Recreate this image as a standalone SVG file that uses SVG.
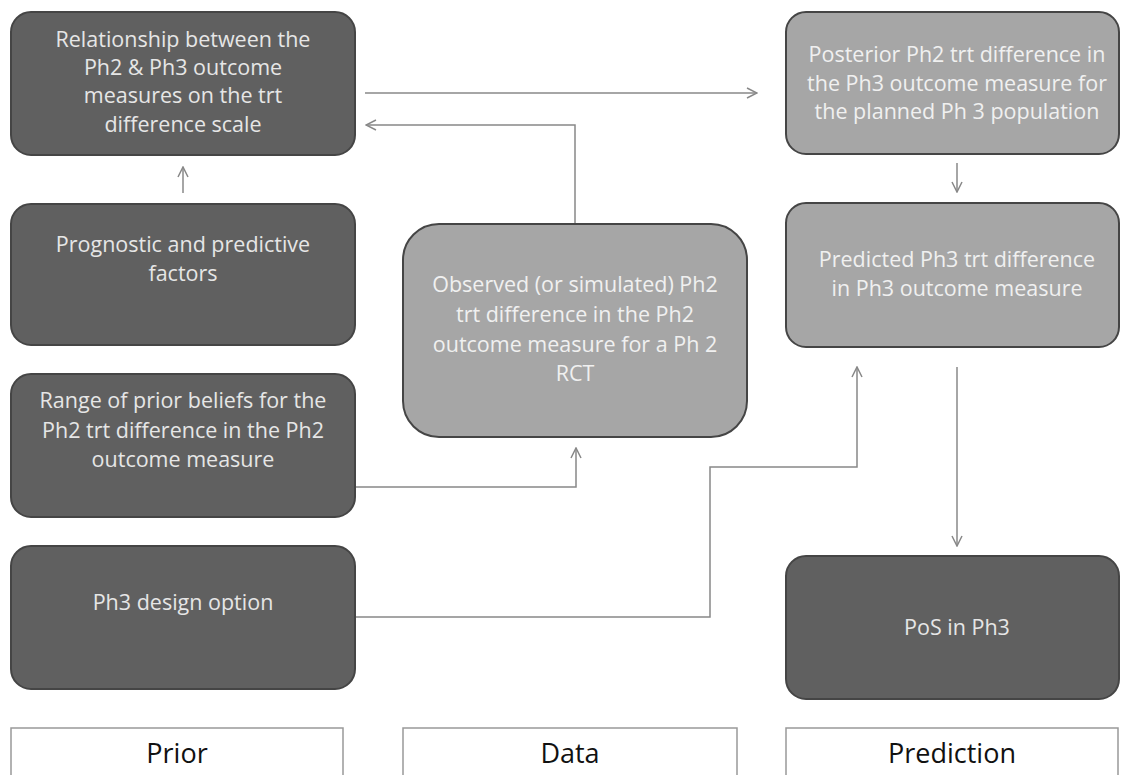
<svg xmlns="http://www.w3.org/2000/svg" width="1122" height="775" viewBox="0 0 1122 775">
<style>
.dark{fill:#606060;stroke:#454545;stroke-width:2}
.light{fill:#a6a6a6;stroke:#454545;stroke-width:2}
.t{font-family:"Open Sans",Lato,sans-serif;font-size:21.5px;text-anchor:middle;fill:#e6e6e6}
.tl{font-family:"Open Sans",Lato,sans-serif;font-size:21.5px;text-anchor:middle;fill:#f0f0f0}
.lab{fill:#fff;stroke:#999;stroke-width:1.5}
.lt{font-family:"Open Sans",Lato,sans-serif;font-size:27px;text-anchor:middle;fill:#111}
.c{fill:none;stroke:#888;stroke-width:1.5;marker-end:url(#ah)}
</style>
<defs>
<marker id="ah" viewBox="0 0 12 12" refX="11" refY="6" markerWidth="12" markerHeight="12" markerUnits="userSpaceOnUse" orient="auto">
<path d="M1,1 L11,6 L1,11" fill="none" stroke="#888" stroke-width="1.5"/>
</marker>
</defs>
<rect width="1122" height="775" fill="#fff"/>
<g id="connectors">
<path class="c" d="M365,93 H757"/>
<path class="c" d="M575,224 V125 H366"/>
<path class="c" d="M183,193 V167"/>
<path class="c" d="M355,487 H576 V448"/>
<path class="c" d="M355,617 H710 V467 H857 V367"/>
<path class="c" d="M957,163 V192"/>
<path class="c" d="M957,367 V546"/>
</g>
<g id="relationship">
<rect class="dark" x="11" y="12" width="344" height="143" rx="20"/>
<text class="t" x="183" y="47">Relationship between the</text>
<text class="t" x="183" y="75">Ph2 &amp; Ph3 outcome</text>
<text class="t" x="183" y="103">measures on the trt</text>
<text class="t" x="183" y="132">difference scale</text>
</g>
<g id="prognostic">
<rect class="dark" x="11" y="204" width="344" height="141" rx="20"/>
<text class="t" x="183" y="252">Prognostic and predictive</text>
<text class="t" x="183" y="281">factors</text>
</g>
<g id="range">
<rect class="dark" x="11" y="374" width="344" height="143" rx="20"/>
<text class="t" x="183" y="408">Range of prior beliefs for the</text>
<text class="t" x="183" y="438">Ph2 trt difference in the Ph2</text>
<text class="t" x="183" y="467">outcome measure</text>
</g>
<g id="ph3design">
<rect class="dark" x="11" y="546" width="344" height="143" rx="20"/>
<text class="t" x="183" y="610">Ph3 design option</text>
</g>
<g id="observed">
<rect class="light" x="403" y="224" width="344" height="213" rx="36"/>
<text class="tl" x="575" y="292">Observed (or simulated) Ph2</text>
<text class="tl" x="575" y="322">trt difference in the Ph2</text>
<text class="tl" x="575" y="352">outcome measure for a Ph 2</text>
<text class="tl" x="575" y="381">RCT</text>
</g>
<g id="posterior">
<rect class="light" x="786" y="12" width="333" height="142" rx="20"/>
<text class="tl" x="957" y="62">Posterior Ph2 trt difference in</text>
<text class="tl" x="957" y="91">the Ph3 outcome measure for</text>
<text class="tl" x="957" y="119">the planned Ph 3 population</text>
</g>
<g id="predicted">
<rect class="light" x="786" y="203" width="333" height="144" rx="20"/>
<text class="tl" x="957" y="267">Predicted Ph3 trt difference</text>
<text class="tl" x="957" y="296">in Ph3 outcome measure</text>
</g>
<g id="pos">
<rect class="dark" x="786" y="556" width="333" height="143" rx="20"/>
<text class="t" x="957" y="635">PoS in Ph3</text>
</g>
<g id="label-prior">
<rect class="lab" x="11" y="728" width="332" height="60"/>
<text class="lt" x="177" y="763">Prior</text>
</g>
<g id="label-data">
<rect class="lab" x="403" y="728" width="334" height="60"/>
<text class="lt" x="570" y="763">Data</text>
</g>
<g id="label-prediction">
<rect class="lab" x="786" y="728" width="332" height="60"/>
<text class="lt" x="952" y="763">Prediction</text>
</g>
</svg>
